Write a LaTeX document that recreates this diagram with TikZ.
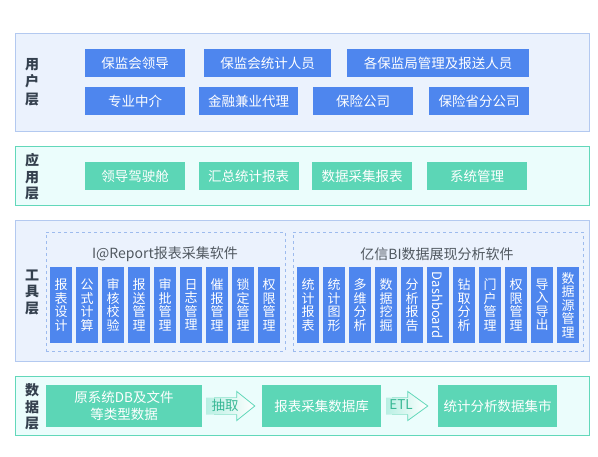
\documentclass[tikz,border=0pt]{standalone}
\usepackage{fontspec}
\setmainfont{Noto Sans CJK SC}
\usetikzlibrary{calc}

\definecolor{boxblue}{HTML}{4E86EE}
\definecolor{bluefill}{HTML}{EBF2FD}
\definecolor{blueline}{HTML}{B3C9F0}
\definecolor{dashline}{HTML}{9DBBEE}
\definecolor{boxgreen}{HTML}{5CD6B6}
\definecolor{greenfill}{HTML}{EBFDFC}
\definecolor{greenline}{HTML}{62D8BA}
\definecolor{arrowtext}{HTML}{38B895}
\definecolor{namegray}{HTML}{34404E}
\definecolor{titlegray}{HTML}{505860}

\tikzset{
	bluepanel/.style = {draw=blueline, fill=bluefill, line width=0.8pt, minimum width=574pt},
	greenpanel/.style = {draw=greenline, fill=greenfill, line width=0.8pt, minimum width=574pt},
	layername/.style = {text=namegray, align=center, font=\fontsize{14}{16.5}\selectfont\bfseries},
	bluebox/.style = {fill=boxblue, text=white, minimum height=28pt, inner sep=0pt},
	greenbox/.style = {fill=boxgreen, text=white, minimum height=28pt, inner sep=0pt},
	dashbox/.style = {draw=dashline, dashed, line width=0.7pt, minimum height=119pt},
	softtitle/.style = {text=titlegray, font=\fontsize{14}{16}\selectfont},
	vbox/.style = {fill=boxblue, text=white, minimum width=22pt, minimum height=76pt, inner sep=0pt,
		align=center, font=\fontsize{13}{13.5}\selectfont},
	arrowbody/.style = {left color=boxgreen!35!greenfill, right color=white},
	arrowedge/.style = {draw=greenline, line width=0.8pt, line join=miter},
	arrowtag/.style = {text=arrowtext, inner sep=0pt}
}

\begin{document}
\begin{tikzpicture}[x=1pt, y=-1pt, font=\fontsize{13.5}{16}\selectfont]
	\useasboundingbox (0,0) rectangle (598,456);
	%%% Layers
	\node[bluepanel, minimum height=98pt] (user) at (302,82) {};
	\node[greenpanel, minimum height=59pt] (app) at (302,175.5) {};
	\node[bluepanel, minimum height=141pt] (tool) at (302,290.5) {};
	\node[greenpanel, minimum height=59pt] (data) at (302,405.5) {};
	
	\node[layername, font=\fontsize{14}{17.5}\selectfont\bfseries] (userlbl) at (32,82) {用\\户\\层};
	\node[layername] (applbl) at (32,177) {应\\用\\层};
	\node[layername] (toollbl) at (32,292) {工\\具\\层};
	\node[layername] (datalbl) at (32,407) {数\\据\\层};
	
	%%% User layer
	\node[bluebox, minimum width=100pt] (u1) at (135,63) {保监会领导};
	\node[bluebox, minimum width=127pt] (u2) at (267.5,63) {保监会统计人员};
	\node[bluebox, minimum width=182pt] (u3) at (438,63) {各保监局管理及报送人员};
	\node[bluebox, minimum width=100pt] (u4) at (135,101) {专业中介};
	\node[bluebox, minimum width=99pt] (u5) at (248.5,101) {金融兼业代理};
	\node[bluebox, minimum width=100pt] (u6) at (363,101) {保险公司};
	\node[bluebox, minimum width=100pt] (u7) at (479,101) {保险省分公司};
	
	%%% Application layer
	\foreach \t/\x [count=\i] in {领导驾驶舱/135, 汇总统计报表/248.5, 数据采集报表/362, 系统管理/477}
	\node[greenbox, minimum width=100pt] (a\i) at (\x,176) {\t};
	
	%%% Tool layer
	\node[dashbox, minimum width=239pt] (rpt) at (165.5,291.5) {};
	\node[softtitle] (rpttitle) at (165,254) {I@Report报表采集软件};
	\foreach \t [count=\i from 0] in {报\\表\\设\\计, 公\\式\\计\\算, 审\\核\\校\\验, 报\\送\\管\\理,
		审\\批\\管\\理, 日\\志\\管\\理, 催\\报\\管\\理, 锁\\定\\管\\理, 权\\限\\管\\理}
	\node[vbox] (r\i) at (61+26*\i,305) {\t};
	
	\node[dashbox, minimum width=290pt] (bi) at (438,291.5) {};
	\node[softtitle] (bititle) at (437,254) {亿信BI数据展现分析软件};
	\foreach \t [count=\i from 0] in {统\\计\\报\\表, 统\\计\\图\\形, 多\\维\\分\\析, 数\\据\\挖\\掘,
		分\\析\\报\\告, \rotatebox{-90}{Dashboard}, 钻\\取\\分\\析, 门\\户\\管\\理, 权\\限\\管\\理,
		导\\入\\导\\出, 数\\据\\源\\管\\理}
	\node[vbox] (b\i) at (308+26*\i,305) {\t};
	
	%%% Data layer
	\node[greenbox, minimum width=156pt, minimum height=42pt, align=center,
		font=\fontsize{13.5}{17}\selectfont] (src) at (124,406) {原系统DB及文件\\等类型数据};
	\node[greenbox, minimum width=119pt, minimum height=42pt] (store) at (321.5,406) {报表采集数据库};
	\node[greenbox, minimum width=119pt, minimum height=42pt] (mart) at (497.5,406) {统计分析数据集市};
	
	% block arrows between the data boxes
	\coordinate (t1) at ($(src.east)+(4,0)$);
	\coordinate (h1) at ($(store.west)+(-7,0)$);
	\path[arrowbody] ($(t1)+(0,-8.5)$) -- ($(h1)+(-18,-8.5)$) -- ($(h1)+(-18,-14.5)$) -- (h1)
		-- ($(h1)+(-18,14.5)$) -- ($(h1)+(-18,8.5)$) -- ($(t1)+(0,8.5)$) -- cycle;
	\draw[greenline!55, line width=0.7pt] ($(t1)+(8,-8.5)$) -- ($(h1)+(-18,-8.5)$)
		($(t1)+(8,8.5)$) -- ($(h1)+(-18,8.5)$);
	\draw[arrowedge] ($(h1)+(-18,-8.5)$) -- ($(h1)+(-18,-14.5)$) -- (h1) -- ($(h1)+(-18,14.5)$)
		-- ($(h1)+(-18,8.5)$);
	\node[arrowtag] (pick) at (225,405) {抽取};
	
	\coordinate (t2) at ($(store.east)+(5,0)$);
	\coordinate (h2) at ($(mart.west)+(-10,0)$);
	\path[arrowbody] ($(t2)+(0,-8.5)$) -- ($(h2)+(-20,-8.5)$) -- ($(h2)+(-20,-14.5)$) -- (h2)
		-- ($(h2)+(-20,14.5)$) -- ($(h2)+(-20,8.5)$) -- ($(t2)+(0,8.5)$) -- cycle;
	\draw[greenline!55, line width=0.7pt] ($(t2)+(6,-8.5)$) -- ($(h2)+(-20,-8.5)$)
		($(t2)+(6,8.5)$) -- ($(h2)+(-20,8.5)$);
	\draw[arrowedge] ($(h2)+(-20,-8.5)$) -- ($(h2)+(-20,-14.5)$) -- (h2) -- ($(h2)+(-20,14.5)$)
		-- ($(h2)+(-20,8.5)$);
	\node[arrowtag] (etl) at (401,405) {ETL};
\end{tikzpicture}
\end{document}
